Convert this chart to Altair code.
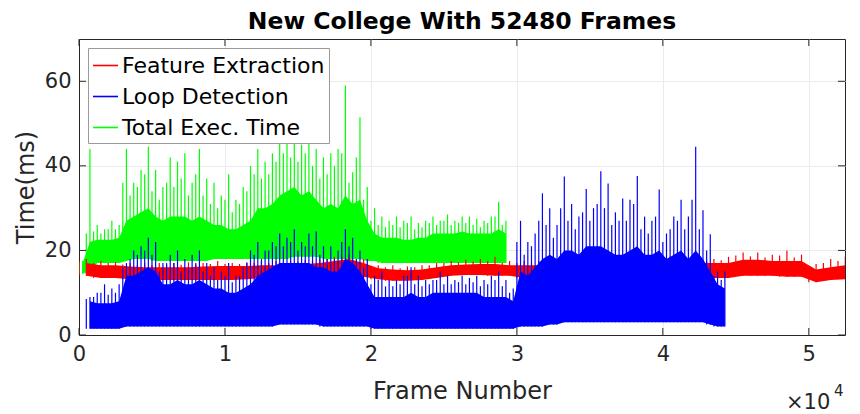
import altair as alt
import pandas as pd

SERIES = ["Feature Extraction", "Loop Detection", "Total Exec. Time"]
COLORS = ["#ff0000", "#0000ff", "#00ff00"]
FONT = "DejaVu Sans"
INK = "#262626"

# Feature extraction time (ms) in 1000-frame bins from frame 0:
# lo/hi = lower and upper edge of the solid band,
# md = secondary spike (bin start), pk = highest spike (bin centre)
red_start, red_step = 0, 1000
red_lo = [14.0, 13.5, 13.5, 13.2, 13.2, 13.0, 13.0, 13.0, 13.0, 13.0,
          13.0, 13.2, 13.5, 13.5, 13.5, 13.5, 13.5, 14.0, 14.0, 13.8,
          13.2, 12.8, 12.8, 13.0, 13.5, 14.0, 14.2, 14.2, 14.0, 14.0,
          13.5, 13.5, 13.5, 13.5, 13.5, 13.5, 13.5, 13.5, 13.5, 13.5,
          13.5, 13.5, 13.5, 13.5, 13.5, 14.0, 14.0, 14.0, 13.8, 13.8,
          12.5, 13.0, 13.2]
red_hi = [17.0, 16.5, 16.5, 16.2, 16.0, 16.0, 16.0, 16.0, 16.2, 16.3,
          16.3, 16.3, 16.5, 16.5, 16.5, 16.8, 17.0, 17.5, 18.0, 17.0,
          15.8, 15.5, 15.3, 15.5, 16.0, 16.5, 16.7, 16.8, 16.8, 16.5,
          16.5, 16.5, 17.0, 16.8, 16.8, 16.8, 17.0, 17.0, 17.0, 17.0,
          17.2, 17.0, 17.0, 17.0, 17.0, 17.8, 17.8, 17.5, 17.5, 17.5,
          15.5, 16.0, 16.5]
red_md = [17.5, 17.0, 17.0, 16.7, 16.5, 16.5, 16.6, 16.6, 16.7, 16.8,
          16.8, 16.8, 17.0, 17.0, 17.0, 17.3, 17.5, 18.0, 18.5, 17.5,
          16.2, 16.0, 15.8, 16.0, 16.5, 17.0, 17.2, 17.4, 17.5, 17.0,
          17.0, 17.0, 17.5, 17.5, 17.3, 17.3, 17.5, 17.7, 17.5, 17.7,
          17.8, 17.5, 17.5, 17.5, 17.7, 18.8, 18.6, 18.3, 18.8, 18.3,
          16.2, 17.0, 17.5]
red_pk = [18.0, 17.5, 17.2, 17.0, 17.0, 17.0, 17.0, 17.2, 17.0, 17.5,
          17.0, 17.2, 17.5, 17.5, 17.5, 17.8, 18.0, 18.5, 19.0, 18.0,
          16.5, 16.5, 16.2, 16.5, 17.0, 17.5, 17.8, 18.0, 18.5, 17.5,
          17.5, 17.5, 18.0, 18.5, 18.0, 18.0, 18.0, 18.5, 18.0, 18.5,
          18.5, 18.0, 18.0, 18.0, 18.5, 19.5, 19.5, 19.0, 20.0, 19.0,
          16.8, 18.0, 18.5]

# Loop detection time (ms) in 500-frame bins from frame 500
blue_start, blue_step = 500, 500
blue_lo = [1.5, 1.5, 1.5, 1.5, 1.5,
           2, 2, 2, 2, 2, 2, 2, 2, 2, 2,
           2, 2, 2, 2, 2, 2, 2, 2, 2, 2,
           2, 2.5, 2.5, 2.5, 2.5, 2.5, 2.5, 2, 2, 2,
           2, 2, 2, 2, 1.5, 1.5, 1.5, 1.5, 1.5, 1.5,
           1.5, 1.5, 1.5, 1.5, 1.5, 1.5, 1.5, 1.5, 1.5, 1.5,
           1.5, 1.5, 1.5, 1.5, 2, 2, 2, 2, 2.5, 2.5,
           3, 3, 3, 3, 3, 3, 3, 3, 3, 3,
           3, 3, 3, 3, 3, 3, 3, 3, 3, 3,
           2.5, 2, 2]
blue_hi = [8, 7.5, 7.5, 7.5, 8,
           14, 14, 15, 16, 15, 12, 12, 13, 12, 12,
           13, 12, 11, 11, 10, 10, 11, 12, 14, 15,
           16, 17, 17, 17, 17, 17, 16, 16, 15, 15,
           18, 17, 15, 12, 9, 9, 9, 9, 9, 10,
           9, 9, 10, 10, 10, 10, 10, 10, 10, 9,
           9, 9, 9, 8, 15, 14, 16, 18, 19, 18,
           20, 20, 19, 21, 21, 21, 20, 19, 19, 20,
           21, 19, 19, 20, 18, 19, 20, 18, 20, 18,
           15, 12, 11]
blue_md = [8.5, 9, 10, 9.5, 10,
           16, 18, 19, 20, 19, 15, 17, 17, 15, 16,
           17, 15, 14, 13, 14, 12.5, 14, 17, 19, 18,
           20, 21, 21, 22, 20, 21, 21, 19, 18, 18,
           22, 21, 18, 16, 12, 13, 11.5, 11.5, 12, 14,
           12, 11.5, 12, 13, 12, 12, 12.5, 12, 12.5, 11.5,
           12, 13, 11.5, 10, 22, 19, 21, 27, 26, 23,
           30, 27, 25, 29, 27, 31, 30, 26, 27, 27,
           31, 25, 24, 28, 22, 25, 27, 25, 32, 25,
           20, 14, 13]
blue_pk = [9, 10, 12, 11, 12,
           17, 20, 21, 23, 22, 17, 19, 20, 18, 19,
           20, 17, 16, 15, 17, 14, 16, 20, 22, 20,
           22, 24, 23, 25, 22, 24, 24.5, 21, 21, 20,
           25, 23, 20, 18, 14, 15, 13, 13, 14, 16,
           14, 13, 13, 15, 14, 13, 14, 13.5, 14, 13,
           14, 15, 13, 11, 27, 22, 24, 33.5, 30, 26,
           37.5, 31, 28, 34.5, 30, 38.7, 35.8, 29, 32.3, 32,
           37.6, 28, 27, 34.4, 24, 28, 32, 28, 44.5, 29.5,
           23.8, 15, 15]

# Total execution time (ms) in 500-frame bins from frame 0
green_start, green_step = 0, 500
green_lo = [14.5, 15.0, 17, 17, 17, 17, 17.5, 18, 18, 18,
            17.5, 17.5, 17.5, 17.5, 17.5, 17.5, 17.5, 17.5, 18, 18,
            18, 18, 18, 18, 18, 18, 18, 18, 18, 18.5,
            18.5, 18.5, 18.5, 18, 18, 18, 18, 18, 18, 17.5,
            17.5, 17, 17, 17, 17, 17, 17, 17, 17, 17,
            17, 17, 17, 17, 17, 17, 17, 17, 17]
green_hi = [17.0, 22.0, 22.5, 22.5, 22.5, 23.0, 27, 28, 29, 30,
            28, 27, 28, 28, 28, 27, 28, 27, 26, 26,
            25, 25, 26, 27, 30, 30, 31, 33, 34, 35,
            33, 34, 32, 30, 31, 30, 33, 31, 32, 27,
            24, 23, 23, 23, 22.5, 22.5, 23, 23, 24, 24,
            24, 24, 24.5, 24, 24, 24, 24, 25, 24]
green_md = [17.2, 24, 24.5, 24, 25, 25, 36, 33, 35, 38,
            34, 32, 36, 35, 37, 33, 38, 33, 31, 30,
            32, 29, 31, 34, 38, 37, 38, 41, 43, 42,
            41, 43, 40, 37, 38, 40, 43, 36, 42, 32,
            27, 26, 25.5, 26, 25.5, 26.5, 25, 25.5, 26.5, 26,
            27, 26, 26.5, 26.5, 26, 25.5, 26.5, 28, 26]
green_pk = [17.5, 44, 26, 25, 27, 26, 44, 36, 39, 44.5,
            39, 35, 42, 41, 43, 36, 44, 37, 36, 33,
            38, 32, 35, 40, 44, 41, 43, 46, 48, 47,
            45, 47, 44, 42, 43, 44, 59, 38.5, 51.5, 35,
            30, 28, 27, 28, 27, 28, 26.5, 27, 28, 27,
            28.5, 27, 28, 28, 27.5, 27, 28, 31.5, 27]

x_ticks = [0, 10000, 20000, 30000, 40000, 50000]
y_ticks = [0, 20, 40, 60]
X_MAX = 52480
Y_MAX = 70
W, H = 766, 296


def binned(name, start, step, lo, hi, md, pk):
    n = len(lo)
    return pd.DataFrame({
        "series": name,
        "frame": [start + step * (i + 0.5) for i in range(n)],
        "edge": [start + step * i for i in range(n)],
        "lo": lo,
        "hi": hi,
        "md": md,
        "pk": pk,
    })


red_df = binned(SERIES[0], red_start, red_step, red_lo, red_hi, red_md, red_pk)
blue_df = binned(SERIES[1], blue_start, blue_step, blue_lo, blue_hi, blue_md, blue_pk)
green_df = binned(SERIES[2], green_start, green_step, green_lo, green_hi, green_md, green_pk)

x_scale = alt.Scale(domain=[0, X_MAX], nice=False, zero=False)
y_scale = alt.Scale(domain=[0, Y_MAX], nice=False)
x_axis = alt.Axis(values=x_ticks, labelExpr="datum.value / 10000", title="Frame Number",
                  ticks=False, labelPadding=8, titlePadding=15, labelFlush=False)
y_axis = alt.Axis(values=y_ticks, title="Time(ms)", ticks=False, labelPadding=8,
                  titlePadding=6)

color = alt.Color(
    "series:N",
    scale=alt.Scale(domain=SERIES, range=COLORS),
    legend=alt.Legend(
        title=None, orient="none", legendX=9, legendY=9,
        fillColor="white", strokeColor="#9a9a9a", padding=4,
        symbolType="stroke", symbolSize=625, symbolStrokeWidth=1.6,
        labelFont=FONT, labelFontSize=22, labelColor="black",
        labelOffset=3, rowPadding=6, labelLimit=0,
    ),
)


def band(df, c):
    return alt.Chart(df).mark_area(fill=c, clip=True).encode(
        x=alt.X("frame:Q", scale=x_scale, axis=x_axis),
        y=alt.Y("hi:Q", scale=y_scale, axis=y_axis),
        y2="lo:Q",
    )


def spikes(df):
    return alt.Chart(df).mark_rule(strokeWidth=1.2, clip=True).encode(
        x=alt.X("frame:Q", scale=x_scale, axis=x_axis),
        y=alt.Y("pk:Q", scale=y_scale, axis=y_axis),
        y2="lo:Q",
        color=color,
    )


def small_spikes(df, c):
    return alt.Chart(df).mark_rule(strokeWidth=1.2, clip=True, color=c).encode(
        x=alt.X("edge:Q", scale=x_scale, axis=x_axis),
        y=alt.Y("md:Q", scale=y_scale, axis=y_axis),
        y2="lo:Q",
    )


# inward tick marks on all four sides of the box
xt = pd.DataFrame({"frame": x_ticks})
yt = pd.DataFrame({"hi": y_ticks})
tick_x = alt.X("frame:Q", scale=x_scale, axis=x_axis)
tick_y = alt.Y("hi:Q", scale=y_scale, axis=y_axis)
bottom_ticks = alt.Chart(xt).mark_rule(color=INK).encode(x=tick_x, y=alt.value(H), y2=alt.value(H - 7))
top_ticks = alt.Chart(xt).mark_rule(color=INK).encode(x=tick_x, y=alt.value(0), y2=alt.value(7))
left_ticks = alt.Chart(yt).mark_rule(color=INK).encode(y=tick_y, x=alt.value(0), x2=alt.value(7))
right_ticks = alt.Chart(yt).mark_rule(color=INK).encode(y=tick_y, x=alt.value(W), x2=alt.value(W - 7))

# axis multiplier under the right end of the x axis
mult = pd.DataFrame({"base": ["\u00d710"], "power": ["4"]})
mult_base = alt.Chart(mult).mark_text(
    align="left", baseline="alphabetic", font=FONT, fontSize=21, color=INK
).encode(text="base:N", x=alt.value(707), y=alt.value(370))
mult_pow = alt.Chart(mult).mark_text(
    align="left", baseline="alphabetic", font=FONT, fontSize=15, color=INK
).encode(text="power:N", x=alt.value(755), y=alt.value(357))

chart = alt.layer(
    band(green_df, COLORS[2]), small_spikes(green_df, COLORS[2]), spikes(green_df),
    band(red_df, COLORS[0]), small_spikes(red_df, COLORS[0]), spikes(red_df),
    band(blue_df, COLORS[1]), small_spikes(blue_df, COLORS[1]), spikes(blue_df),
    bottom_ticks, top_ticks, left_ticks, right_ticks,
    mult_base, mult_pow,
).properties(
    width=W,
    height=H,
    title=alt.TitleParams(
        "New College With 52480 Frames", font=FONT, fontSize=23.5,
        fontWeight="bold", color="black", anchor="middle",
        baseline="alphabetic", offset=6, dy=20,
    ),
    padding={"left": 79, "top": 39, "right": 15, "bottom": 79},
    autosize=alt.AutoSizeParams(type="none"),
).configure_view(
    stroke=INK, strokeWidth=1
).configure_axis(
    domainColor=INK, gridColor="#ebebeb", labelColor=INK, titleColor=INK,
    labelFont=FONT, titleFont=FONT, labelFontSize=21, titleFontSize=24,
    titleFontWeight="normal",
)

chart.save("out.html", embed_options={"renderer": "svg", "actions": False})
